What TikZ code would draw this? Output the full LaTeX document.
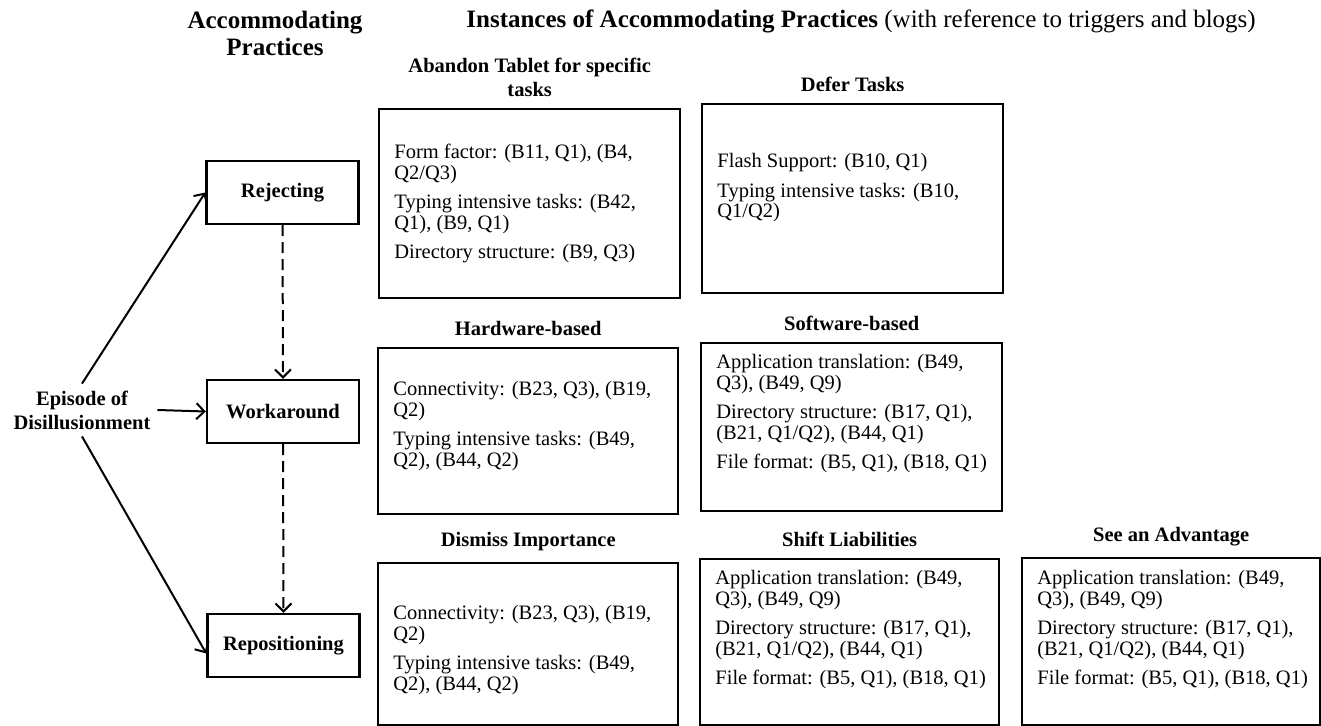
\documentclass[tikz,border=0pt]{standalone}
\usepackage{fontspec}
\setmainfont{Liberation Serif}
\usetikzlibrary{positioning,arrows.meta}
\newcommand{\itemfont}{\fontsize{10.25pt}{10.25pt}\selectfont}
\tikzset{
  stage/.style={draw, line width=1.2pt, minimum width=76pt, minimum height=31.5pt,
    inner sep=0pt, font=\fontsize{10.25pt}{12pt}\selectfont\bfseries},
  frame/.style={draw, line width=1.2pt, inner sep=0pt, anchor=north west},
  heading/.style={font=\fontsize{10.25pt}{12pt}\selectfont\bfseries, align=center},
  titletext/.style={font=\fontsize{12.5pt}{13.5pt}\selectfont, align=center},
  entries/.style={anchor=north west, inner sep=0pt, align=left, font=\itemfont},
  flow/.style={->, line width=1pt},
}
\begin{document}
\begin{tikzpicture}[x=0.5pt, y=-0.5pt, >={Straight Barb[length=4pt,width=8pt]}]
\useasboundingbox (0,0) rectangle (1321,726);
% titles
\node[titletext, font=\fontsize{12.5pt}{13.5pt}\selectfont\bfseries] (lefttitle) at (275,33) {Accommodating\\Practices};
\node[titletext, anchor=west, inner sep=0pt] (maintitle) at (466,21)
  {\textbf{Instances of Accommodating Practices} (with reference to triggers and blogs)};
% accommodating practices
\node[stage] (rej) at (282.5,192.5) {Rejecting};
\node[stage] (work) at (283,411.5) {Workaround};
\node[stage] (repo) at (283.5,645.5) {Repositioning};
\node[heading] (episode) at (82,410) {Episode of\\Disillusionment};
\draw[flow] (episode.north) -- (rej.west);
\draw[flow] (episode.east) -- (work.west);
\draw[flow] (episode.south) -- ([yshift=-4pt]repo.west);
\draw[flow, dash pattern=on 5.5pt off 3pt] (rej.south) -- (work.north);
\draw[flow, dash pattern=on 5.5pt off 3pt] (work.south) -- (repo.north);
% instances
\node[frame, minimum width=150.5pt, minimum height=94.5pt] (abandon) at (378,108) {};
\node[frame, minimum width=150.5pt, minimum height=94.5pt] (defer) at (701,103) {};
\node[frame, minimum width=150pt, minimum height=83pt] (hard) at (377,347) {};
\node[frame, minimum width=150.5pt, minimum height=84pt] (soft) at (700,342) {};
\node[frame, minimum width=150pt, minimum height=81pt] (dismiss) at (377,562) {};
\node[frame, minimum width=149.5pt, minimum height=83pt] (shift) at (699,558) {};
\node[frame, minimum width=149pt, minimum height=83.5pt] (advant) at (1021,557) {};
\node[heading, above=2pt of abandon] (abandonhead) {Abandon Tablet for specific\\tasks};
\node[heading, above=2pt of defer] (deferhead) {Defer Tasks};
\node[heading, above=2pt of hard] (hardhead) {Hardware-based};
\node[heading, above=2pt of soft] (softhead) {Software-based};
\node[heading, above=2pt of dismiss] (dismisshead) {Dismiss Importance};
\node[heading, above=2pt of shift] (shifthead) {Shift Liabilities};
\node[heading, above=2pt of advant] (advanthead) {See an Advantage};
\node[entries] (abandontext) at ([shift={(16,36)}]abandon.north west)
  {Form factor: (B11, Q1), (B4,\\ Q2/Q3)\\[4.5pt]
   Typing intensive tasks: (B42,\\ Q1), (B9, Q1)\\[4.5pt]
   Directory structure: (B9, Q3)};
\node[entries] (defertext) at ([shift={(16,50)}]defer.north west)
  {Flash Support: (B10, Q1)\\[4.5pt]
   Typing intensive tasks: (B10,\\ Q1/Q2)};
\node[entries] (hardtext) at ([shift={(16,34)}]hard.north west)
  {Connectivity: (B23, Q3), (B19,\\ Q2)\\[4.5pt]
   Typing intensive tasks: (B49,\\ Q2), (B44, Q2)};
\node[entries] (softtext) at ([shift={(16,12)}]soft.north west)
  {Application translation: (B49,\\ Q3), (B49, Q9)\\[4.5pt]
   Directory structure: (B17, Q1),\\ (B21, Q1/Q2), (B44, Q1)\\[4.5pt]
   File format: (B5, Q1), (B18, Q1)};
\node[entries] (dismisstext) at ([shift={(16,43)}]dismiss.north west)
  {Connectivity: (B23, Q3), (B19,\\ Q2)\\[4.5pt]
   Typing intensive tasks: (B49,\\ Q2), (B44, Q2)};
\node[entries] (shifttext) at ([shift={(16,12)}]shift.north west)
  {Application translation: (B49,\\ Q3), (B49, Q9)\\[4.5pt]
   Directory structure: (B17, Q1),\\ (B21, Q1/Q2), (B44, Q1)\\[4.5pt]
   File format: (B5, Q1), (B18, Q1)};
\node[entries] (advanttext) at ([shift={(16,13)}]advant.north west)
  {Application translation: (B49,\\ Q3), (B49, Q9)\\[4.5pt]
   Directory structure: (B17, Q1),\\ (B21, Q1/Q2), (B44, Q1)\\[4.5pt]
   File format: (B5, Q1), (B18, Q1)};
\end{tikzpicture}
\end{document}
